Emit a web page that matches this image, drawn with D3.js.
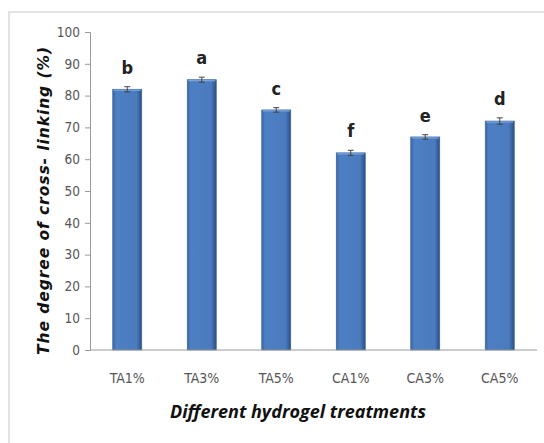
<!DOCTYPE html>
<html>
<head>
<meta charset="utf-8">
<script src="https://cdn.jsdelivr.net/npm/d3@7"></script>
<style>
  body { margin: 0; background: #fff; }
  .narrow { font-family: 'DejaVu Sans Condensed', 'DejaVu Sans', sans-serif; font-stretch: condensed; }
</style>
</head>
<body>
<svg id="chart" width="544" height="443"></svg>
<script>
// treatments and measured degree of cross-linking
const treatments = ["TA1%", "TA3%", "TA5%", "CA1%", "CA3%", "CA5%"];
const crossLinking = [82, 85, 75.5, 62, 67, 72];
const errors = [0.8, 0.8, 0.7, 0.8, 0.7, 1.0];
const letters = ["b", "a", "c", "f", "e", "d"];
const yTicks = [0, 10, 20, 30, 40, 50, 60, 70, 80, 90, 100];

const svg = d3.select("#chart");

// light frame round the chart
svg.append("rect")
  .attr("x", 9).attr("y", 12)
  .attr("width", 545).attr("height", 450)
  .attr("fill", "none")
  .attr("stroke", "#e2e2e2")
  .attr("stroke-width", 2);

const plotLeft = 90, plotRight = 537, plotTop = 32, plotBottom = 350;

const x = d3.scaleBand()
  .domain(treatments)
  .range([plotLeft, plotRight])
  .paddingInner(0.61)
  .paddingOuter(0.305);

const y = d3.scaleLinear()
  .domain([0, 100])
  .range([plotBottom, plotTop]);

// bar gradient (excel bevel look)
const defs = svg.append("defs");
const grad = defs.append("linearGradient").attr("id", "barGrad")
  .attr("x1", "0").attr("x2", "1").attr("y1", "0").attr("y2", "0");
grad.append("stop").attr("offset", "0%").attr("stop-color", "#3a66a3");
grad.append("stop").attr("offset", "12%").attr("stop-color", "#4d7fc3");
grad.append("stop").attr("offset", "82%").attr("stop-color", "#4a7bbe");
grad.append("stop").attr("offset", "100%").attr("stop-color", "#2b4f82");

// y axis
const yAxis = svg.append("g")
  .attr("transform", `translate(${plotLeft},0)`)
  .call(d3.axisLeft(y).tickValues(yTicks).tickSize(5).tickPadding(5));
yAxis.select(".domain").attr("stroke", "#9a9a9a");
yAxis.selectAll(".tick line").attr("stroke", "#9a9a9a");
yAxis.selectAll(".tick text")
  .attr("class", "narrow")
  .attr("fill", "#555")
  .style("font-family", null)
  .style("font-size", "13.5px");
yAxis.attr("font-family", null);

// bars
const bars = svg.append("g");
bars.selectAll("rect")
  .data(crossLinking)
  .enter()
  .append("rect")
  .attr("x", (d, i) => x(treatments[i]))
  .attr("y", d => y(d))
  .attr("width", x.bandwidth())
  .attr("height", d => y(0) - y(d))
  .attr("fill", "url(#barGrad)")
  .attr("stroke", "#35609c")
  .attr("stroke-width", 0.6);

// light top edge of the bars
bars.selectAll("line.top")
  .data(crossLinking)
  .enter()
  .append("line")
  .attr("class", "top")
  .attr("x1", (d, i) => x(treatments[i]) + 1)
  .attr("x2", (d, i) => x(treatments[i]) + x.bandwidth() - 1)
  .attr("y1", d => y(d) + 1)
  .attr("y2", d => y(d) + 1)
  .attr("stroke", "#7ea6dc")
  .attr("stroke-width", 1.2);

// x axis line
svg.append("line")
  .attr("x1", plotLeft).attr("x2", plotRight)
  .attr("y1", y(0)).attr("y2", y(0))
  .attr("stroke", "#9a9a9a");

// error bars
const eb = svg.append("g").attr("stroke", "#444").attr("stroke-width", 1);
crossLinking.forEach((v, i) => {
  const cx = x(treatments[i]) + x.bandwidth() / 2;
  eb.append("line").attr("x1", cx).attr("x2", cx)
    .attr("y1", y(v - errors[i])).attr("y2", y(v + errors[i]));
  eb.append("line").attr("x1", cx - 3).attr("x2", cx + 3)
    .attr("y1", y(v - errors[i])).attr("y2", y(v - errors[i]));
  eb.append("line").attr("x1", cx - 3).attr("x2", cx + 3)
    .attr("y1", y(v + errors[i])).attr("y2", y(v + errors[i]));
});

// significance letters
svg.append("g").selectAll("text")
  .data(letters)
  .enter()
  .append("text")
  .attr("class", "narrow")
  .attr("x", (d, i) => x(treatments[i]) + x.bandwidth() / 2)
  .attr("y", (d, i) => y(crossLinking[i] + errors[i]) - 13)
  .attr("text-anchor", "middle")
  .style("font-weight", "bold")
  .style("font-size", "18px")
  .attr("fill", "#222")
  .text(d => d);

// category labels
svg.append("g").selectAll("text")
  .data(treatments)
  .enter()
  .append("text")
  .attr("class", "narrow")
  .attr("x", d => x(d) + x.bandwidth() / 2)
  .attr("y", 383)
  .attr("text-anchor", "middle")
  .style("font-size", "14px")
  .attr("fill", "#555")
  .text(d => d);

// axis titles
svg.append("text")
  .attr("x", 298).attr("y", 418)
  .attr("text-anchor", "middle")
  .style("font-family", "'Open Sans', sans-serif")
  .style("font-weight", "bold")
  .style("font-style", "italic")
  .style("font-size", "18px")
  .attr("fill", "#111")
  .text("Different hydrogel treatments");

svg.append("text")
  .attr("transform", "translate(49,201) rotate(-90)")
  .attr("text-anchor", "middle")
  .style("font-family", "'DejaVu Sans', sans-serif")
  .style("font-weight", "bold")
  .style("font-style", "italic")
  .style("font-size", "15.5px")
  .attr("textLength", 308)
  .attr("fill", "#111")
  .text("The degree of cross- linking (%)");
</script>
</body>
</html>
